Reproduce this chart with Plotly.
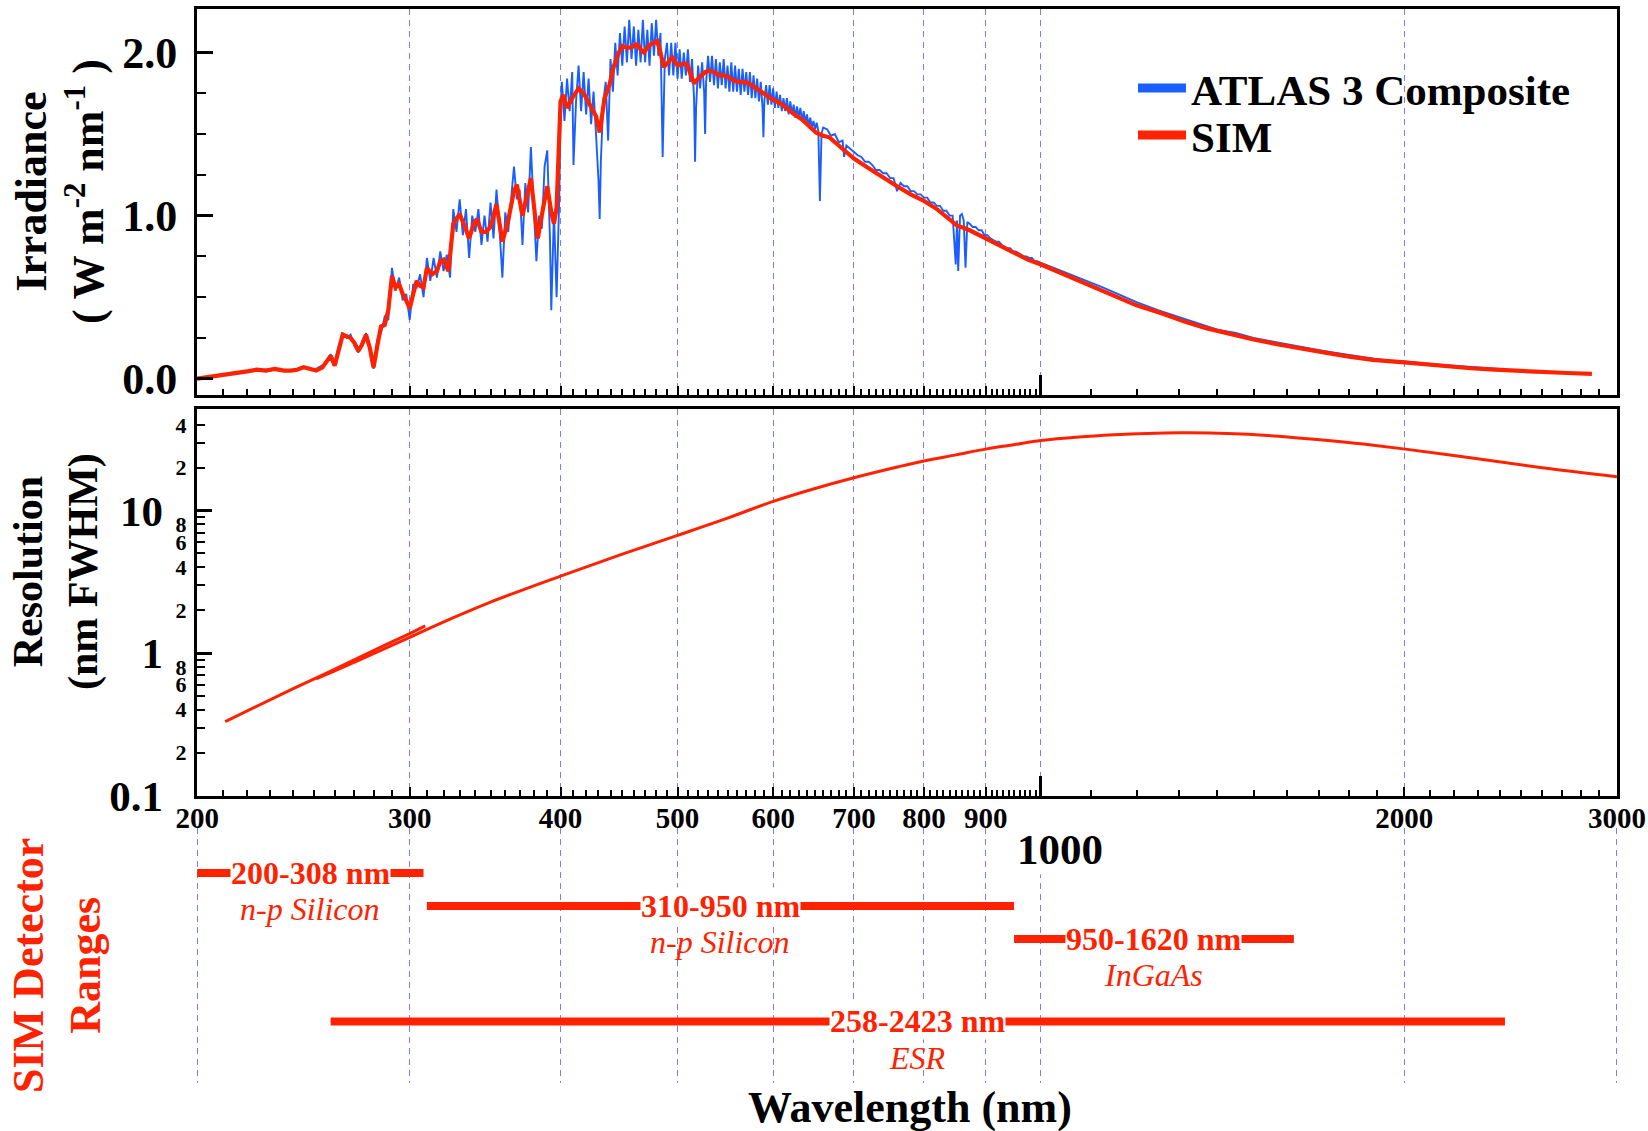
import math
import plotly.graph_objects as go

# ---------------- data ----------------
# ATLAS 3 composite solar spectrum (W m-2 nm-1)
atlas_nm = [
    200, 205, 210, 215, 220, 225, 230, 235, 240, 245,
    250, 255, 258, 260, 262, 264, 266, 268, 270, 272,
    274, 276, 278, 280, 282, 284, 286, 288, 290, 292,
    294, 296, 298, 300, 302, 304, 306, 308, 310, 312,
    314, 316, 318, 320, 322, 324, 326, 328, 330, 332,
    334, 336, 338, 340, 342, 344, 346, 348, 350, 352,
    354, 356, 358, 360, 362, 364, 366, 368, 370, 372,
    374, 376, 378, 380, 382, 384, 386, 388, 390, 392,
    393, 395, 397, 399, 400, 401, 403, 405, 407, 409,
    410, 412, 414, 416, 418, 420, 422, 424, 426, 428,
    430, 431, 432, 434, 436, 438, 440, 442, 444, 446,
    448, 450, 452, 454, 456, 458, 460, 462, 464, 466,
    468, 470, 472, 474, 476, 478, 480, 482, 484, 486,
    488, 490, 492, 494, 496, 498, 500, 502, 504, 506,
    508, 510, 512, 514, 516, 517, 518, 520, 522, 524,
    526, 527, 528, 530, 532, 534, 536, 538, 540, 542,
    544, 546, 548, 550, 552, 554, 556, 558, 560, 562,
    564, 566, 568, 570, 572, 574, 576, 578, 580, 582,
    584, 586, 588, 589, 590, 592, 594, 596, 598, 600,
    602, 604, 606, 608, 610, 612, 614, 616, 618, 620,
    622, 624, 626, 628, 630, 632, 634, 636, 638, 640,
    642, 644, 646, 648, 650, 652, 654, 656, 658, 660,
    665, 670, 675, 680, 685, 687, 690, 695, 700, 705,
    710, 715, 720, 725, 730, 735, 740, 745, 750, 755,
    760, 765, 770, 775, 780, 785, 790, 795, 800, 805,
    810, 815, 820, 825, 830, 835, 840, 845, 850, 852,
    854, 857, 860, 863, 866, 869, 873, 878, 883, 888,
    893, 898, 903, 908, 913, 918, 923, 928, 933, 938,
    943, 948, 953, 958, 963, 968, 973, 978, 983, 988,
    993, 1000, 1025, 1050, 1075, 1100, 1125, 1150, 1175, 1200,
    1250, 1300, 1350, 1400, 1450, 1500, 1550, 1600, 1650, 1700,
    1750, 1800, 1850, 1900, 1950, 2000, 2100, 2200, 2300, 2400,
]
atlas_irr = [
    0.000, 0.012, 0.022, 0.030, 0.045, 0.055, 0.055, 0.050, 0.050, 0.070,
    0.055, 0.090, 0.150, 0.100, 0.200, 0.280, 0.250, 0.270, 0.200, 0.160,
    0.230, 0.280, 0.180, 0.060, 0.240, 0.280, 0.380, 0.360, 0.680, 0.540,
    0.620, 0.480, 0.520, 0.360, 0.580, 0.560, 0.640, 0.500, 0.740, 0.600,
    0.740, 0.620, 0.780, 0.660, 0.760, 0.620, 1.040, 0.900, 1.100, 0.880,
    1.040, 0.740, 1.000, 0.900, 1.040, 0.820, 1.000, 0.840, 1.080, 0.860,
    1.160, 0.920, 0.620, 1.020, 0.900, 1.080, 1.300, 1.100, 1.160, 0.820,
    1.200, 1.020, 1.420, 1.060, 0.720, 1.000, 0.920, 1.300, 1.400, 0.860,
    0.420, 1.020, 0.500, 1.100, 1.640, 1.820, 1.580, 1.840, 1.640, 1.880,
    1.310, 1.700, 1.920, 1.640, 1.880, 1.620, 1.840, 1.560, 1.760, 1.500,
    1.220, 0.980, 1.340, 1.700, 1.820, 1.460, 1.960, 1.760, 2.060, 1.860,
    2.120, 1.920, 2.160, 1.940, 2.200, 1.960, 2.160, 1.920, 2.140, 1.940,
    2.200, 1.940, 2.140, 1.920, 2.180, 1.980, 2.200, 1.980, 2.120, 1.360,
    1.960, 2.060, 1.860, 2.060, 1.860, 2.060, 1.840, 2.020, 1.840, 2.000,
    1.860, 2.020, 1.820, 1.960, 1.720, 1.330, 1.660, 1.920, 1.780, 1.940,
    1.760, 1.500, 1.820, 1.980, 1.820, 1.980, 1.800, 1.960, 1.780, 1.940,
    1.800, 1.960, 1.780, 1.920, 1.760, 1.940, 1.760, 1.920, 1.760, 1.900,
    1.740, 1.900, 1.760, 1.880, 1.740, 1.880, 1.720, 1.860, 1.720, 1.840,
    1.700, 1.820, 1.660, 1.480, 1.700, 1.800, 1.680, 1.800, 1.680, 1.780,
    1.660, 1.760, 1.660, 1.740, 1.640, 1.720, 1.640, 1.720, 1.620, 1.700,
    1.620, 1.680, 1.600, 1.670, 1.600, 1.660, 1.580, 1.640, 1.570, 1.620,
    1.550, 1.600, 1.540, 1.580, 1.530, 1.570, 1.520, 1.090, 1.500, 1.540,
    1.530, 1.490, 1.500, 1.450, 1.460, 1.360, 1.430, 1.410, 1.390, 1.370,
    1.360, 1.330, 1.330, 1.310, 1.280, 1.280, 1.260, 1.260, 1.230, 1.230,
    1.150, 1.200, 1.180, 1.180, 1.150, 1.150, 1.130, 1.130, 1.110, 1.110,
    1.080, 1.080, 1.060, 1.060, 1.030, 1.030, 1.000, 1.000, 0.700, 0.970,
    0.660, 1.000, 1.010, 0.970, 0.680, 0.960, 0.950, 0.930, 0.930, 0.910,
    0.910, 0.880, 0.880, 0.860, 0.850, 0.840, 0.840, 0.820, 0.810, 0.800,
    0.800, 0.780, 0.780, 0.770, 0.760, 0.750, 0.750, 0.740, 0.740, 0.720,
    0.720, 0.710, 0.680, 0.650, 0.620, 0.590, 0.560, 0.530, 0.500, 0.470,
    0.420, 0.380, 0.340, 0.300, 0.280, 0.250, 0.230, 0.210, 0.190, 0.175,
    0.160, 0.145, 0.130, 0.120, 0.110, 0.105, 0.090, 0.078, 0.068, 0.060,
]

# SIM solar spectrum (W m-2 nm-1)
sim_nm = [
    200, 205, 210, 215, 220, 224, 228, 232, 236, 239, 242, 245, 248, 251, 254, 256, 258, 260, 262, 264,
    266, 268, 270, 272, 274, 276, 278, 280, 282, 284, 286, 288, 290, 292, 294, 296, 298, 300, 302, 304,
    306, 308, 310, 313, 316, 318, 320, 323, 326, 330, 333, 336, 339, 341, 344, 347, 350, 354, 358, 362,
    366, 368, 372, 375, 378, 381, 383, 387, 390, 393, 395, 397, 400, 402, 405, 409, 414, 418, 421, 425,
    428, 431, 433, 435, 439, 443, 447, 450, 454, 457, 460, 463, 466, 469, 472, 475, 478, 481, 484, 487,
    491, 495, 500, 505, 509, 513, 516, 520, 523, 527, 531, 536, 541, 546, 551, 556, 562, 567, 573, 578,
    584, 592, 600, 608, 617, 625, 634, 642, 651, 660, 668, 680, 700, 720, 737, 760, 780, 800, 820, 840,
    852, 873, 900, 925, 950, 975, 1000, 1030, 1062, 1100, 1150, 1200, 1260, 1315, 1370, 1437, 1500, 1573, 1650, 1720,
    1800, 1883, 2000, 2080, 2173, 2270, 2377, 2490, 2601, 2730, 2860,
]
sim_irr = [
    0.000, 0.010, 0.020, 0.030, 0.045, 0.055, 0.050, 0.060, 0.050, 0.050, 0.055, 0.070, 0.060, 0.050, 0.070, 0.110, 0.140, 0.080, 0.180, 0.270,
    0.260, 0.250, 0.220, 0.170, 0.210, 0.270, 0.190, 0.070, 0.200, 0.320, 0.330, 0.420, 0.630, 0.560, 0.580, 0.520, 0.480, 0.430, 0.520, 0.600,
    0.570, 0.560, 0.680, 0.640, 0.660, 0.720, 0.730, 0.660, 0.950, 1.010, 0.940, 0.860, 0.950, 0.980, 0.900, 0.900, 0.930, 1.070, 0.840, 0.970,
    1.150, 1.190, 1.000, 1.120, 1.230, 1.000, 0.860, 1.050, 1.180, 1.020, 0.950, 1.050, 1.700, 1.740, 1.660, 1.720, 1.780, 1.750, 1.710, 1.660,
    1.610, 1.510, 1.620, 1.720, 1.800, 1.920, 2.000, 2.040, 2.030, 2.030, 2.040, 2.050, 2.020, 2.000, 2.030, 2.050, 2.060, 2.070, 2.000, 1.910,
    1.940, 1.970, 1.920, 1.930, 1.930, 1.860, 1.810, 1.840, 1.860, 1.880, 1.890, 1.880, 1.860, 1.860, 1.850, 1.830, 1.820, 1.820, 1.810, 1.790,
    1.770, 1.740, 1.710, 1.690, 1.650, 1.620, 1.590, 1.550, 1.510, 1.490, 1.480, 1.430, 1.350, 1.290, 1.240, 1.180, 1.130, 1.090, 1.040, 0.980,
    0.940, 0.910, 0.860, 0.810, 0.770, 0.730, 0.700, 0.660, 0.620, 0.570, 0.510, 0.450, 0.400, 0.350, 0.310, 0.270, 0.240, 0.210, 0.180, 0.160,
    0.135, 0.115, 0.100, 0.088, 0.075, 0.064, 0.055, 0.047, 0.040, 0.035, 0.030,
]

# SIM spectral resolution (nm FWHM): short-wave channel and main prism channel
res_uv_nm = [211, 225, 240, 255, 270, 285, 300, 309]
res_uv_fwhm = [0.33, 0.43, 0.56, 0.71, 0.90, 1.12, 1.37, 1.55]
res_nm = [251, 260, 280, 300, 324, 350, 400, 450, 500, 550, 600, 650, 700, 762, 800, 850, 902, 950,
          1000, 1075, 1150, 1225, 1304, 1380, 1467, 1600, 1720, 1850, 2004, 2276, 2601, 3000]
res_fwhm = [0.66, 0.75, 0.99, 1.29, 1.73, 2.28, 3.47, 4.95, 6.7, 8.85, 11.6, 14.3, 17.0, 20.3, 22.3, 24.6,
            27.1, 29.0, 31.0, 32.8, 34.0, 34.8, 35.2, 35.1, 34.5, 32.9, 31.2, 29.3, 27.0, 23.4, 20.0, 17.3]

# SIM detector coverage (nm)
det_lo = [200, 310, 950, 258]
det_hi = [308, 950, 1620, 2423]
det_material = ["n-p Silicon", "n-p Silicon", "InGaAs", "ESR"]

# wavelength axis ticks
x_major = [200, 300, 400, 500, 600, 700, 800, 900, 1000, 2000, 3000]
x_major_text = ["200", "300", "400", "500", "600", "700", "800", "900", "", "2000", "3000"]

# ---------------- layout helpers ----------------
W, H = 1648, 1131
ML, MR = 190, 24            # outer plot area; the framed panels sit 7 px inside it
INSET = 7
FONT = "Liberation Serif"
RED = "#ff2200"
BLUE = "#1a5eff"
GRID = "#7b7bff"
PLOT_W = W - ML - MR


def py(y_px):
    return 1 - y_px / H


def px(x_px):
    return (x_px - ML) / PLOT_W


x_minor = [v for v in range(210, 1000, 10) if v % 100] + [v for v in range(1100, 3000, 100) if v % 1000]
x_range = [math.log10(199.95), math.log10(3000.3)]
dec_per_px = (x_range[1] - x_range[0]) / (PLOT_W - 2 * INSET)
x_range_wide = [x_range[0] - INSET * dec_per_px, x_range[1] + INSET * dec_per_px]
panel_dom = [INSET / PLOT_W, 1 - INSET / PLOT_W]
det_row = [0, 1, 2, 4.5]

fig = go.Figure()

# irradiance panel
fig.add_trace(go.Scatter(x=atlas_nm, y=atlas_irr, mode="lines", line=dict(color=BLUE, width=1.9),
                         xaxis="x", yaxis="y", showlegend=False))
fig.add_trace(go.Scatter(x=sim_nm, y=sim_irr, mode="lines", line=dict(color=RED, width=4.2),
                         xaxis="x", yaxis="y", showlegend=False))
fig.add_trace(go.Scatter(x=[None], y=[None], mode="lines", line=dict(color=BLUE, width=9),
                         name="ATLAS 3 Composite", xaxis="x", yaxis="y", legend="legend"))
fig.add_trace(go.Scatter(x=[None], y=[None], mode="lines", line=dict(color=RED, width=9),
                         name="SIM", xaxis="x", yaxis="y", legend="legend2"))

# resolution panel
fig.add_trace(go.Scatter(x=res_uv_nm, y=res_uv_fwhm, mode="lines", line=dict(color=RED, width=3),
                         xaxis="x2", yaxis="y2", showlegend=False))
fig.add_trace(go.Scatter(x=res_nm, y=res_fwhm, mode="lines", line=dict(color=RED, width=3, shape="spline"),
                         xaxis="x2", yaxis="y2", showlegend=False))

# detector ranges
dx, dy = [], []
for lo, hi, r in zip(det_lo, det_hi, det_row):
    dx += [lo, hi, None]
    dy += [r, r, None]
fig.add_trace(go.Scatter(x=dx, y=dy, mode="lines", line=dict(color=RED, width=8),
                         xaxis="x3", yaxis="y3", showlegend=False))

# carriers for the overlay axes (long 1000 ticks, decade labels)
for xa, ya in (("x4", "y"), ("x5", "y2"), ("x2", "y4")):
    fig.add_trace(go.Scatter(x=[None], y=[None], xaxis=xa, yaxis=ya, showlegend=False, hoverinfo="skip"))

dom_top = [py(395), py(8.5)]
dom_mid = [py(795.5), py(409)]
dom_bot = [py(1083), py(828)]

frame = dict(showline=True, linecolor="black", linewidth=3, mirror=True)
gridstyle = dict(showgrid=True, gridcolor=GRID, gridwidth=1.4, griddash="6px,5px")
xcommon = dict(type="log", tickmode="array", tickvals=x_major, zeroline=False, automargin=False)
legend_style = dict(xanchor="left", yanchor="middle",
                    font=dict(family=FONT, size=43, weight="bold"), bgcolor="rgba(0,0,0,0)",
                    itemwidth=48, tracegroupgap=0)

fig.update_layout(
    width=W, height=H,
    margin=dict(l=ML, r=MR, t=0, b=0, autoexpand=False),
    paper_bgcolor="white", plot_bgcolor="white",
    font=dict(family=FONT, color="black"),
    xaxis=dict(**xcommon, **gridstyle, **frame, domain=panel_dom, range=x_range, anchor="y",
               ticktext=[""] * len(x_major),
               showticklabels=False, ticks="inside", ticklen=9, tickwidth=2, tickcolor="black",
               minor=dict(tickmode="array", tickvals=x_minor, ticks="inside", ticklen=6,
                          tickwidth=2, tickcolor="black", showgrid=False)),
    xaxis2=dict(**xcommon, **gridstyle, **frame, domain=panel_dom, range=x_range, anchor="y2",
                ticktext=x_major_text,
                showticklabels=True, ticks="inside", ticklen=9, tickwidth=2, tickcolor="black",
                ticklabelstandoff=-5,
                tickfont=dict(family=FONT, size=29, weight="bold"),
                minor=dict(tickmode="array", tickvals=x_minor, ticks="inside", ticklen=6,
                           tickwidth=2, tickcolor="black", showgrid=False)),
    xaxis3=dict(**xcommon, **gridstyle, domain=[0, 1], range=x_range_wide, anchor="y3",
                showline=False, showticklabels=False, ticks=""),
    xaxis4=dict(type="log", range=x_range, domain=panel_dom, overlaying="x", anchor="y", side="bottom",
                tickmode="array", tickvals=[1000], showticklabels=False, ticks="inside",
                ticklen=20, tickwidth=2.5, tickcolor="black", showgrid=False, showline=False,
                zeroline=False, automargin=False),
    xaxis5=dict(type="log", range=x_range, domain=panel_dom, overlaying="x2", anchor="y2", side="bottom",
                tickmode="array", tickvals=[1000], showticklabels=False, ticks="inside",
                ticklen=20, tickwidth=2.5, tickcolor="black", showgrid=False, showline=False,
                zeroline=False, automargin=False),
    yaxis=dict(domain=dom_top, range=[-0.1, 2.27], **frame, anchor="x",
               tickmode="array", tickvals=[0, 1, 2], ticktext=["0.0", "1.0", "2.0"],
               ticks="inside", ticklen=16, tickwidth=2.5, tickcolor="black",
               ticklabelstandoff=8, tickfont=dict(family=FONT, size=44, weight="bold"),
               showgrid=False, zeroline=False, automargin=False,
               minor=dict(tickmode="array", tickvals=[0.25, 0.5, 0.75, 1.25, 1.5, 1.75],
                          ticks="inside", ticklen=9, tickwidth=2, tickcolor="black", showgrid=False)),
    yaxis2=dict(domain=dom_mid, type="log", range=[-1, 1.713], **frame, anchor="x2",
                tickmode="array",
                tickvals=[0.2, 0.4, 0.6, 0.8, 2, 4, 6, 8, 20, 40],
                ticktext=["2", "4", "6", "8", "2", "4", "6", "8", "2", "4"],
                ticks="inside", ticklen=8, tickwidth=2, tickcolor="black",
                ticklabelstandoff=3, tickfont=dict(family=FONT, size=22, weight="bold"),
                showgrid=False, zeroline=False, automargin=False,
                minor=dict(tickmode="array", tickvals=[0.3, 0.5, 0.7, 0.9, 3, 5, 7, 9, 30],
                           ticks="inside", ticklen=8, tickwidth=2, tickcolor="black", showgrid=False)),
    yaxis4=dict(type="log", range=[-1, 1.713], overlaying="y2", anchor="x2", side="left",
                tickmode="array", tickvals=[0.1, 1, 10], ticktext=["0.1", "1", "10"],
                ticks="inside", ticklen=15, tickwidth=2.5, tickcolor="black",
                ticklabelstandoff=33, tickfont=dict(family=FONT, size=43, weight="bold"),
                showgrid=False, showline=False, zeroline=False, automargin=False),
    yaxis3=dict(domain=dom_bot, range=[6.364, -1.364], visible=False),
    legend=dict(x=px(1133), y=py(88), **legend_style),
    legend2=dict(x=px(1133), y=py(135), **legend_style),
    showlegend=True,
)

ann = []
title_font = dict(family=FONT, size=44, weight="bold", color="black")
# axis titles
ann.append(dict(text="Irradiance<br>( W m<sup>-2</sup> nm<sup>-1</sup> )", xref="paper", yref="paper",
                x=px(60), y=py(192), xanchor="center", yanchor="middle", textangle=-90,
                showarrow=False, font=title_font))
ann.append(dict(text="Resolution<br>(nm FWHM)", xref="paper", yref="paper",
                x=px(56), y=py(572), xanchor="center", yanchor="middle", textangle=-90,
                showarrow=False, font=dict(title_font, size=42)))
ann.append(dict(text="SIM Detector<br>Ranges", xref="paper", yref="paper",
                x=px(57), y=py(966), xanchor="center", yanchor="middle", textangle=-90,
                showarrow=False, font=dict(title_font, color=RED)))
ann.append(dict(text="Wavelength (nm)", xref="paper", yref="paper",
                x=px(910), y=py(1107), xanchor="center", yanchor="middle", showarrow=False,
                font=title_font))
# enlarged 1000 tick label
ann.append(dict(text="1000", xref="x3", yref="paper", x=3, y=py(849), xshift=19,
                xanchor="center", yanchor="middle", showarrow=False, bgcolor="white", borderpad=1,
                font=dict(family=FONT, size=43, weight="bold", color="black")))
# detector range labels
for lo, hi, r, mat in zip(det_lo, det_hi, det_row, det_material):
    mid = 0.5 * (math.log10(lo) + math.log10(hi))
    ann.append(dict(text=f"{lo}-{hi} nm", xref="x3", yref="y3", x=mid, y=r,
                    xanchor="center", yanchor="middle", showarrow=False, bgcolor="white", borderpad=0,
                    font=dict(family=FONT, size=32, weight="bold", color=RED)))
    ann.append(dict(text=f"<i>{mat}</i>", xref="x3", yref="y3", x=mid, y=r + 1.1,
                    xanchor="center", yanchor="middle", showarrow=False,
                    font=dict(family=FONT, size=32, color=RED)))
fig.update_layout(annotations=ann)

fig.write_html("out.html")
